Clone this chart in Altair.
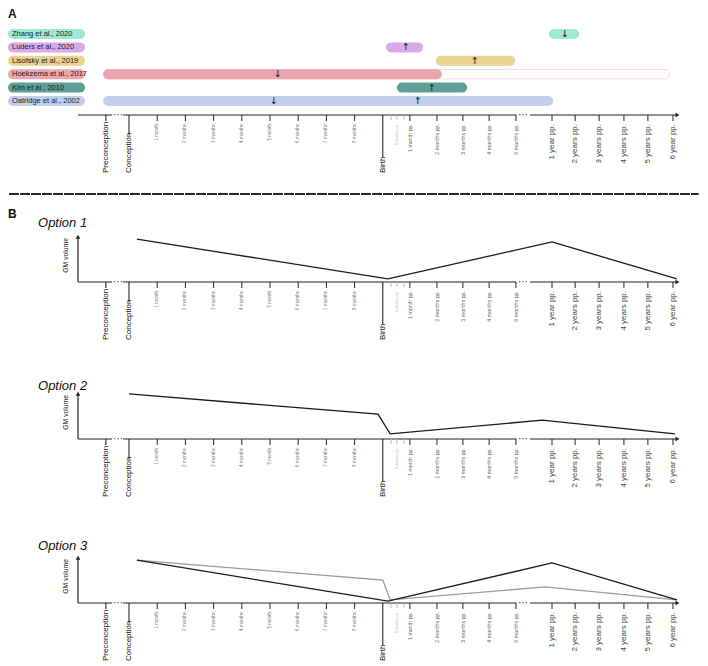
import altair as alt
import pandas as pd

FONT = "Liberation Sans"

# ---------------- Panel A data ----------------
STUDIES = ["Zhang et al., 2020", "Luders et al., 2020", "Lisofsky et al., 2019",
           "Hoekzema et al., 2017", "Kim et al., 2010", "Oatridge et al., 2002"]
STUDY_COLORS = ["#9fe8d3", "#d9a9ea", "#ead290", "#eba5ac", "#5d9f95", "#c2cfea"]
BAR_START = [15.07, 9.29, 11.06, -0.74, 9.68, -0.74]
BAR_END = [15.78, 10.25, 13.51, 10.92, 11.81, 14.86]
FOLLOWUP_STUDY = ["Hoekzema et al., 2017"]
FOLLOWUP_START = [-0.74]
FOLLOWUP_END = [19.0]
ARROW_STUDY = ["Zhang et al., 2020", "Luders et al., 2020", "Lisofsky et al., 2019",
               "Hoekzema et al., 2017", "Kim et al., 2010", "Oatridge et al., 2002",
               "Oatridge et al., 2002"]
ARROW_POS = [15.46, 9.82, 12.27, 5.28, 10.74, 5.14, 10.25]
ARROW_GLYPH = ["↓", "↑", "↑", "↓", "↑", "↓", "↑"]

# ---------------- Timeline (shared x axis) ----------------
TICK_POS = [-0.82, 0, 1, 2, 3, 4, 5, 6, 7, 8, 9, 9.29, 9.5, 9.75,
            9.96, 10.92, 11.84, 12.77, 13.72, 15.0, 15.82, 16.67, 17.55, 18.4, 19.29]
TICK_LABELS = ["Preconception", "Conception", "1 month", "2 months", "3 months",
               "4 months", "5 month", "6 months", "7 months", "8 months", "Birth",
               "", "2 weeks pp.", "", "1 month pp.", "2 months pp.", "3 months pp.",
               "4 months pp.", "5 months pp.", "1 year pp.", "2 years pp.",
               "3 years pp.", "4 years pp.", "5 years pp.", "6 year pp."]
KEY_TICKS = [-0.82, 0, 9]
FAINT_TICKS = [9.29, 9.5, 9.75]
PREG_TICKS = [1, 2, 3, 4, 5, 6, 7, 8]
PP_TICKS = [9.96, 10.92, 11.84, 12.77, 13.72]
YEAR_TICKS = [15.0, 15.82, 16.67, 17.55, 18.4, 19.29]

AXIS_SEG_START = [-1.809, -0.21, 14.22]
AXIS_SEG_END = [-0.60, 13.74, 19.40]
ELLIPSIS_POS = [-0.39, 13.97]

# ---------------- Panel B data (GM volume, schematic) ----------------
OPT1_X = [0.28, 9.18, 15.0, 19.43]
OPT1_Y = [0.93, 0.07, 0.87, 0.07]
OPT2_X = [0.0, 8.83, 9.26, 14.65, 19.36]
OPT2_Y = [0.98, 0.54, 0.11, 0.41, 0.11]
OPT3_BLACK_X = [0.28, 9.18, 15.0, 19.43]
OPT3_BLACK_Y = [0.93, 0.04, 0.87, 0.07]
OPT3_GREY_X = [0.28, 9.0, 9.26, 14.75, 19.43]
OPT3_GREY_Y = [0.93, 0.50, 0.07, 0.35, 0.07]

# ---------------- layout / style constants ----------------
XMIN, XMAX = -1.809, 19.539
W = 602
LEFT_U = -4.291
RIGHT_U = 20.2
PILL_U0, PILL_U1 = -4.113, -1.738
PILL_TEXT_U = -4.15
TITLE_U = -3.227
GM_LABEL_U = -2.234
ARROW_TIP_U = 19.45
PX_PER_GM = 46.0
KEY_LABEL_OFFSET = 58
KEY_TICK_LEN = {-0.82: 6, 0: 20, 9: 42}
LABEL_OFFSET = 9
# group -> (font size, label colour, tick colour, tick length)
GROUP_STYLE = {
    "preg": (4.6, "#7a7a7a", "#222222", 6),
    "faint": (4.0, "#b5b5b5", "#bbbbbb", 5),
    "pp": (5.3, "#666666", "#222222", 6),
    "year": (8.0, "#444444", "#222222", 6),
}
GROUP_TICKS = {"preg": PREG_TICKS, "faint": FAINT_TICKS, "pp": PP_TICKS, "year": YEAR_TICKS}

XS = alt.Scale(domain=[XMIN, XMAX], nice=False, zero=False)

one = pd.DataFrame({"k": [0]})
seg_df = pd.DataFrame({"s": AXIS_SEG_START, "e": AXIS_SEG_END})
ell_df = pd.DataFrame({"p": ELLIPSIS_POS})
key_df = pd.DataFrame({"p": [p for p in TICK_POS if p in KEY_TICKS],
                       "label": [l for p, l in zip(TICK_POS, TICK_LABELS) if p in KEY_TICKS]})
group_dfs = {g: pd.DataFrame({"p": [p for p in TICK_POS if p in vals],
                              "label": [l for p, l in zip(TICK_POS, TICK_LABELS) if p in vals]})
             for g, vals in GROUP_TICKS.items()}


def XD(v):
    return alt.XDatum(v, type="quantitative", scale=XS, axis=None)


def Xf(f):
    return alt.X(f, type="quantitative", scale=XS, axis=None)


def axis_layers(y_enc, y2_enc):
    out = []
    out.append(alt.Chart(seg_df).mark_rule(color="#222222", strokeWidth=1.2).encode(
        x=Xf("s"), x2="e:Q", y=y_enc))
    out.append(alt.Chart(ell_df).mark_text(text="···", fontSize=10, color="#222222",
                                           baseline="middle", font=FONT).encode(x=Xf("p"), y=y_enc))
    out.append(alt.Chart(one).mark_point(shape="triangle-right", filled=True, size=22,
                                         color="#222222", opacity=1, strokeWidth=0).encode(
        x=XD(ARROW_TIP_U), y=y_enc))
    # regular ticks + labels
    for g, (fs, lc, tc, tl) in GROUP_STYLE.items():
        df = group_dfs[g]
        out.append(alt.Chart(df).mark_rule(color=tc, strokeWidth=1, y2Offset=tl).encode(
            x=Xf("p"), y=y_enc, y2=y2_enc))
        out.append(alt.Chart(df).mark_text(angle=270, align="right", baseline="middle",
                                           fontSize=fs, font=FONT, color=lc,
                                           yOffset=LABEL_OFFSET).encode(
            x=Xf("p"), y=y_enc, text="label:N"))
    # key milestones: long ticks + bottom-anchored labels
    for p, ln in KEY_TICK_LEN.items():
        out.append(alt.Chart(one).mark_rule(color="#111111", strokeWidth=1, y2Offset=ln).encode(
            x=XD(p), y=y_enc, y2=y2_enc))
    out.append(alt.Chart(key_df).mark_text(angle=270, align="left", baseline="middle",
                                           fontSize=8, font=FONT, color="#111111",
                                           yOffset=KEY_LABEL_OFFSET).encode(
        x=Xf("p"), y=y_enc, text="label:N"))
    return out


# ---------------- Panel A ----------------
YS_ROWS = alt.Scale(type="point", domain=STUDIES, range=[25, 92], padding=0)
YR = alt.Y("study:N", scale=YS_ROWS, axis=None)
CS = alt.Scale(domain=STUDIES, range=STUDY_COLORS)

bars_df = pd.DataFrame({"study": STUDIES, "start": BAR_START, "end": BAR_END})
fu_df = pd.DataFrame({"study": FOLLOWUP_STUDY, "start": FOLLOWUP_START, "end": FOLLOWUP_END})
arrow_df = pd.DataFrame({"study": ARROW_STUDY, "pos": ARROW_POS, "glyph": ARROW_GLYPH})

pills = alt.Chart(bars_df).mark_rule(strokeWidth=10, strokeCap="round").encode(
    x=XD(PILL_U0), x2=alt.X2Datum(PILL_U1), y=YR,
    color=alt.Color("study:N", scale=CS, legend=None))
pill_text = alt.Chart(bars_df).mark_text(align="left", baseline="middle", fontSize=7.5,
                                         font=FONT, color="#1c1c1c").encode(
    x=XD(PILL_TEXT_U), y=YR, text="study:N")
fu_outline = alt.Chart(fu_df).mark_rule(strokeWidth=10, strokeCap="round", color="#f1d0d4").encode(
    x=Xf("start"), x2="end:Q", y=YR)
fu_inner = alt.Chart(fu_df).mark_rule(strokeWidth=8.4, strokeCap="round", color="#ffffff").encode(
    x=Xf("start"), x2="end:Q", y=YR)
bars = alt.Chart(bars_df).mark_rule(strokeWidth=10, strokeCap="round").encode(
    x=Xf("start"), x2="end:Q", y=YR, color=alt.Color("study:N", scale=CS, legend=None))
arrows = alt.Chart(arrow_df).mark_text(font="DejaVu Sans", fontSize=9.5, color="#111111",
                                       baseline="middle").encode(
    x=Xf("pos"), y=YR, text="glyph:N")
letter_a = alt.Chart(one).mark_text(text="A", align="left", baseline="top", fontSize=12,
                                    fontWeight="bold", font=FONT, color="#111111").encode(
    x=XD(LEFT_U), y=alt.value(0))

panel_a = alt.layer(*axis_layers(alt.value("height"), alt.value("height")), pills, pill_text,
                    fu_outline, fu_inner, bars, arrows, letter_a).properties(width=W, height=106)


# ---------------- Panel B options ----------------
def option_panel(h, title, title_gm, series, extra=None):
    ys = alt.Scale(domain=[0, h / PX_PER_GM], nice=False, zero=False)

    def YD(v):
        return alt.YDatum(v, type="quantitative", scale=ys, axis=None)

    layers = axis_layers(YD(0), alt.Y2Datum(0))
    layers.append(alt.Chart(one).mark_rule(color="#222222", strokeWidth=1.2).encode(
        x=XD(XMIN), y=YD(0), y2=alt.Y2Datum(0.97)))
    layers.append(alt.Chart(one).mark_point(shape="triangle-up", filled=True, size=22,
                                            color="#222222", opacity=1, strokeWidth=0).encode(
        x=XD(XMIN), y=YD(0.985)))
    layers.append(alt.Chart(one).mark_text(text="GM volume", angle=270, fontSize=6.8, font=FONT,
                                           color="#222222", baseline="middle").encode(
        x=XD(GM_LABEL_U), y=YD(0.58)))
    layers.append(alt.Chart(one).mark_text(text=title, align="left", baseline="middle",
                                           fontSize=13, fontStyle="italic", font=FONT,
                                           color="#111111").encode(
        x=XD(TITLE_U), y=YD(title_gm)))
    for xs, yv, col in series:
        df = pd.DataFrame({"x": xs, "y": yv})
        layers.append(alt.Chart(df).mark_line(color=col, strokeWidth=1.3).encode(
            x=Xf("x"), y=alt.Y("y:Q", scale=ys, axis=None)))
    if extra:
        for kind, val in extra:
            if kind == "divider":
                layers.append(alt.Chart(one).mark_rule(color="#2a2a2a", strokeWidth=2,
                                                       strokeDash=[10, 1]).encode(
                    x=XD(-4.255), x2=alt.X2Datum(RIGHT_U), y=YD(val)))
            if kind == "B":
                layers.append(alt.Chart(one).mark_text(text="B", align="left", baseline="middle",
                                                       fontSize=12, fontWeight="bold", font=FONT,
                                                       color="#111111").encode(
                    x=XD(LEFT_U), y=YD(val)))
    return alt.layer(*layers).properties(width=W, height=h)


opt1 = option_panel(167, "Option 1", 1.283, [(OPT1_X, OPT1_Y, "#1a1a1a")],
                    extra=[("divider", 1.913), ("B", 1.478)])
opt2 = option_panel(157, "Option 2", 1.152, [(OPT2_X, OPT2_Y, "#1a1a1a")])
opt3 = option_panel(164, "Option 3", 1.239, [(OPT3_GREY_X, OPT3_GREY_Y, "#9a9a9a"),
                                             (OPT3_BLACK_X, OPT3_BLACK_Y, "#1a1a1a")])

chart = alt.vconcat(panel_a, opt1, opt2, opt3, spacing=0).properties(
    padding=0, bounds="flush").configure_view(strokeWidth=0)

chart.save("out.html", embed_options={"renderer": "svg", "actions": False})
